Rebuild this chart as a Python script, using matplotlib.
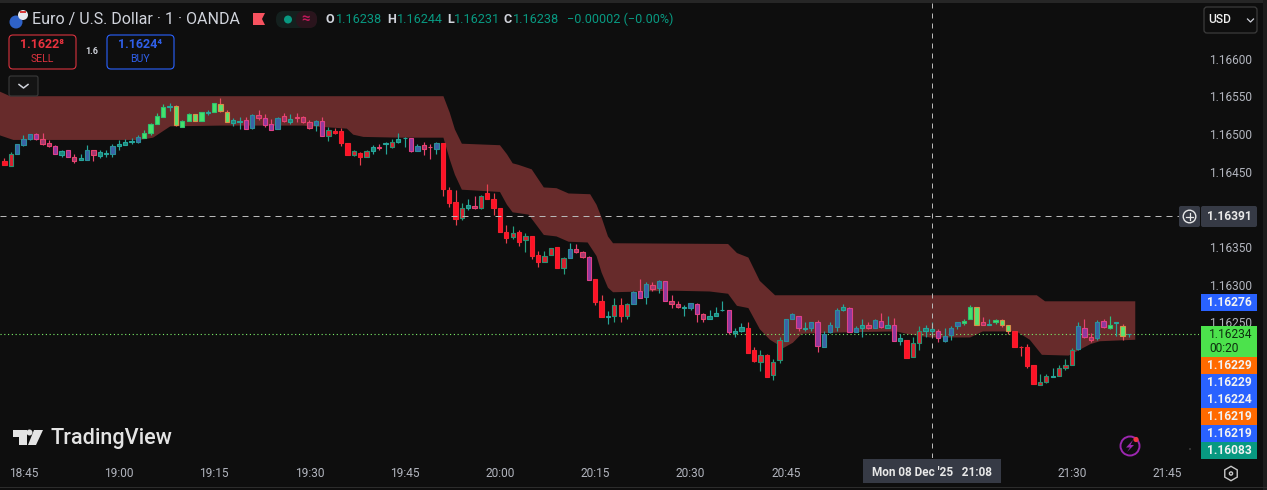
import numpy as np
import matplotlib
matplotlib.use("Agg")
import matplotlib.pyplot as plt
from matplotlib.patches import Rectangle, FancyBboxPatch, Circle, Polygon, RegularPolygon

plt.rcParams['font.family'] = ['Roboto', 'DejaVu Sans']

BASE = 1.16
PIP = 1e-5

# Candle values, in 0.00001 above 1.16000
wick_high = [468,476,487,498,500,501,501,492,485,479,478,474,474,485,478,478,478,486,492,493,
 494,499,505,514,528,540,541,538,518,528,527,529,532,541,548,532,521,523,523,526,
 532,526,520,522,528,527,528,524,519,518,523,509,508,508,488,479,476,479,485,486,
 489,493,501,496,494,486,489,486,489,488,429,425,409,413,418,419,433,421,402,379,
 378,373,369,364,345,345,349,350,337,355,354,345,338,307,287,265,282,282,276,292,
 307,303,303,306,305,286,278,273,276,276,262,267,271,278,267,242,249,251,218,214,
 208,201,230,255,262,258,250,251,253,238,251,269,275,270,245,254,250,254,262,259,
 256,235,227,230,245,246,250,241,243,245,250,254,273,270,257,254,255,254,247,238,
 219,222,194,182,182,190,194,201,216,250,255,236,253,254,259,250,248,235]
body_top = [464,474,486,493,500,500,493,488,484,477,478,469,468,478,478,476,475,484,486,489,
 491,496,501,513,524,536,537,537,517,527,526,529,529,541,540,529,518,517,518,525,
 525,521,513,521,524,520,522,522,516,517,517,505,504,504,488,477,475,477,482,483,
 488,489,493,495,494,484,485,482,488,488,426,410,402,406,405,418,422,414,402,370,
 368,370,365,364,340,338,349,350,336,348,348,343,337,307,278,259,273,273,274,290,
 291,301,299,305,305,279,275,271,276,275,261,258,263,267,267,238,244,243,213,207,
 207,198,226,255,261,258,243,251,250,235,246,266,270,269,242,246,246,253,252,247,
 247,229,227,223,238,242,241,239,232,243,250,252,271,270,250,248,253,253,246,238,
 218,218,193,171,179,179,189,193,214,245,242,231,251,252,246,249,245,235]
body_bot = [459,458,473,485,493,493,487,484,474,472,469,464,465,465,472,471,474,474,484,485,
 489,489,495,501,513,523,536,512,509,517,517,517,528,529,531,516,514,516,507,508,
 521,512,505,507,517,516,521,516,508,512,497,497,501,488,472,472,469,470,477,481,
 487,482,489,494,477,477,480,482,480,427,408,387,389,402,402,402,413,402,370,362,
 363,357,359,338,330,330,339,322,322,336,343,337,306,277,257,257,258,259,258,274,
 283,284,294,295,278,274,270,269,269,261,255,254,258,266,237,236,238,209,199,198,
 178,180,200,225,254,242,241,242,219,217,237,244,266,237,237,242,242,242,244,242,
 225,225,203,204,223,238,238,229,225,233,245,249,254,247,247,247,250,247,238,217,
 217,192,168,167,171,178,179,189,194,215,230,226,229,244,242,249,232,234]
wick_low = [459,458,473,484,492,492,485,483,473,470,469,462,465,465,464,468,470,470,478,485,
 486,488,495,498,513,523,531,511,509,517,517,517,525,529,529,516,511,507,507,507,
 518,509,505,507,516,513,516,515,507,504,497,490,500,484,472,471,459,469,474,478,
 473,481,488,483,476,477,472,467,474,418,403,379,386,399,401,401,413,393,370,355,
 360,351,344,334,323,330,339,322,314,335,342,335,306,273,257,248,250,250,255,274,
 283,274,291,289,278,269,269,258,267,251,251,254,258,265,234,230,237,209,198,186,
 178,174,196,225,254,238,238,238,211,217,236,238,265,237,237,230,241,242,243,242,
 225,220,203,204,214,231,232,224,224,227,241,246,254,246,246,247,248,244,235,217,
 206,190,168,167,170,178,179,187,193,214,229,224,227,243,241,232,227,230]
candle_style = ("RDBBBPMMPT" "PMTBMTTBTT" "TBGGGGTYGG" "YGTGYYTTPB" "MPPBMTMMMB"
                "PDRRRDRDTM" "TDTTPBMMBR" "RRDTMDRRRR" "DRDRRDDRDB" "MMPRRTDRDB"
                "PBMBPMMTBP" "MTTTPTTRRD" "RDDBBPTBPB" "BBTPBTMBPT" "PTRDDTTPBB"
                "BGGYMTGYYR" "RRRDDTDDDB" "PMBPGTYT")

# Band outline, read at its corners
band_up_i = [-0.7,0.9,69.1,70.1,70.9,72,78,79.1,80,80.9,83,84.9,86.9,88.8,92.2,93.2,94,95,95.8,
             113.9,115.3,117.1,118.9,121.3,162.5,163.8,178]
band_up = [556,550,550,528,506,487,485,473,461,459,453,429,428,421,420,406,389,364,355,
           354,342,336,305,286,286,278,278]
band_lo_i = [-0.7,1.4,21.3,23.4,26.1,33.9,47,53.9,54.9,56.5,62.3,69.1,70.1,70.9,72,78,79.1,80,82.5,
             84.9,86.9,88.8,91.8,93.2,94,95,95.8,105.3,111,113.9,115.3,117.1,118.9,120.5,122.6,124.1,
             125.5,133.1,140.4,142.5,145.7,152,154,159.3,161.4,163.3,167.5,170.9,172.4,178]
band_lo = [498,492,492,495,510,511,511,507,499,496,495,495,466,446,426,423,406,396,393,
           366,364,357,356,338,316,296,290,292,291,288,272,269,241,227,216,223,
           235,237,238,234,230,230,238,238,227,207,206,221,225,227]

price_ticks = [600,550,500,450,350,300,250]
time_labels = ["18:45","19:00","19:15","19:30","19:45","20:00","20:15","20:30","20:45","21:30","21:45"]
time_index = [3,18,33,48,63,78,93,108,123,168,183]
last_price = 234
cross_price = 391
cross_index = 146

BG = "#0e0e0e"
STYLES = {  # fill, edge, wick
 'R': ("#ff1226", "#f0202e", "#e8404e"),
 'D': ("#d9202e", "#2c8f70", "#26a080"),
 'B': ("#3b62a6", "#2a8f9a", "#26a69a"),
 'T': ("#1c8a7c", "#26a69a", "#26a69a"),
 'G': ("#46e26c", "#2fc070", "#2fc080"),
 'Y': ("#5ae26e", "#d88f48", "#e8505e"),
 'P': ("#8e3a9e", "#e0408a", "#e8436f"),
 'M': ("#a2386e", "#e8436f", "#e8436f"),
}

fig = plt.figure(figsize=(12.67, 4.90), dpi=100, facecolor=BG)
W, H = 1267, 490
L, R, T, B = 0, 1199, 3, 458
OFF = 0.5   # sub-pixel lift of the plot area
ax = fig.add_axes([L/W, 1-(B-OFF)/H, (R-L)/W, (B-T)/H], facecolor=BG)
S = 6.353
X0 = 4.44
ax.set_xlim((L-X0)/S, (R-X0)/S)
V = lambda y: 600 - (y-59)/0.754
ax.set_ylim(BASE+V(B)*PIP, BASE+V(T)*PIP)

px = lambda a: BASE + np.asarray(a, float)*PIP
ax.fill(np.r_[band_up_i, band_lo_i[::-1]], np.r_[px(band_up), px(band_lo[::-1])],
        color="#672b2b", lw=0, zorder=1)
ax.axhline(px(last_price), color="#7cf06a", lw=0.8, ls=(0, (1, 2.4)), zorder=2)

idx = np.arange(len(wick_high))
for i in idx:
    f, e, w = STYLES[candle_style[i]]
    ax.vlines(i, px(wick_low[i]), px(wick_high[i]), color=w, lw=0.85, zorder=3)
    h = max(body_top[i]-body_bot[i], 1)
    ax.bar(i, h*PIP, bottom=px(body_bot[i]), width=0.68, color=f, edgecolor=e, lw=0.8, zorder=4)

ax.axvline(cross_index, color="#b8b8b8", lw=0.72, ls=(0, (5, 5)), zorder=5)
ax.axhline(px(cross_price), color="#b8b8b8", lw=0.72, ls=(0, (6, 5)), zorder=5)

for s in ax.spines.values():
    s.set_visible(False)
ax.yaxis.tick_right()
ax.set_yticks(px(price_ticks))
ax.set_yticklabels([f"{BASE+p*PIP:.5f}" for p in price_ticks], fontsize=8.6, color="#b2b5be")
ax.set_xticks(time_index)
ax.set_xticklabels(time_labels, fontsize=8.6, color="#b2b5be")
ax.tick_params(axis='both', length=0)
ax.tick_params(axis='y', pad=7.5)
ax.tick_params(axis='x', pad=7)

# Overlay for the platform interface
ov = fig.add_axes([0, 0, 1, 1], facecolor='none', zorder=10)
ov.set_xlim(0, W); ov.set_ylim(H, 0); ov.axis('off')
def t(x, y, s, c="#d1d4dc", size=12, ha='left', weight='normal', **kw):
    ov.text(x, y, s, color=c, fontsize=size*0.72, ha=ha, va='center', fontweight=weight, **kw)
def box(x0, y0, x1, y1, fc, ec='none', r=0, lw=1):
    if r:
        ov.add_patch(FancyBboxPatch((x0+r, y0+r), x1-x0-2*r, y1-y0-2*r, boxstyle=f"round,pad={r},rounding_size={r}",
                                    fc=fc, ec=ec, lw=lw))
    else:
        ov.add_patch(Rectangle((x0, y0), x1-x0, y1-y0, fc=fc, ec=ec, lw=lw))

# frame
box(0, 0, W, 3, "#262626")
box(1263, 0, W, H, "#1c1c1c")
box(0, 487, W, 488, "#2c2c2c")

# title row
ov.add_patch(Circle((16, 22), 6.5, fc="#2f62c8", ec='none'))
ov.add_patch(Circle((23, 15), 5, fc="#e8e8ee", ec='none'))
ov.add_patch(Rectangle((20, 11), 6, 2, fc="#d83a3a", ec='none'))
t(32, 19.5, "Euro / U.S. Dollar · 1 · OANDA", size=16)
ov.add_patch(Polygon([(253,13),(265,13),(262,19),(265,25),(253,25)], fc="#f7525f", ec='none'))
box(276, 11, 317, 28, "#14201e", r=8)
box(296, 11, 317, 28, "#2a141c", r=8)
ov.add_patch(Circle((288, 19.5), 4, fc="#089981", ec='none'))
t(306, 19, "≈", c="#c2185b", size=15, ha='center', weight='bold')
for x, s, c, w in [(325.5,"O","#d1d4dc",'bold'),(335.5,"1.16238","#089981",'normal'),
                   (387,"H","#d1d4dc",'bold'),(397,"1.16244","#089981",'normal'),
                   (447,"L","#d1d4dc",'bold'),(454,"1.16231","#089981",'normal'),
                   (503,"C","#d1d4dc",'bold'),(513,"1.16238","#089981",'normal'),
                   (567,"−0.00002 (−0.00%)","#089981",'normal')]:
    t(x, 19.5, s, c=c, size=12.6, weight=w)

# sell / buy
box(9, 35, 76, 69, BG, ec="#d8323e", r=4, lw=0.8)
t(42, 45, "1.1622⁸", c="#e8323e", size=12.5, ha='center', weight='bold')
t(42, 59, "SELL", c="#d8323e", size=10.5, ha='center')
t(92, 51.5, "1.6", c="#d1d4dc", size=9, ha='center', weight='bold')
box(107, 35, 174, 69, BG, ec="#2962ff", r=4, lw=0.8)
t(140, 45, "1.1624⁴", c="#2f5fe8", size=12.5, ha='center', weight='bold')
t(140, 59, "BUY", c="#2f5fe8", size=10.5, ha='center')
box(9, 76, 38, 96, "#141414", ec="#3a3a3a", r=2, lw=0.8)
ov.plot([19, 23.5, 28], [84.5, 88, 84.5], color="#d1d4dc", lw=1.1)

# USD button
box(1204, 7, 1257, 33, BG, ec="#3c3c3c", r=3, lw=0.9)
t(1208, 19.5, "USD", size=12, c="#f0f0f0", weight='medium')
ov.plot([1247.5, 1250.5, 1253.5], [19, 22, 19], color="#d1d4dc", lw=0.9)

# TradingView logo
ov.add_patch(Polygon([(13,430),(27,430),(27,445),(19,445),(19,437),(13,437)], fc="#e4e4e4", ec='none'))
ov.add_patch(Circle((29.5, 432.5), 3, fc="#e4e4e4", ec='none'))
ov.add_patch(Polygon([(34,430),(43,430),(36,445),(28,445)], fc="#e4e4e4", ec='none'))
t(50.5, 438, "TradingView", c="#e4e4e4", size=21.6, weight='medium')

# price labels
box(1179, 206, 1200, 227, "#363a45", r=2)
box(1201, 206, 1257, 227, "#363a45", r=2)
ov.add_patch(Circle((1189.5, 216.5), 6.3, fc='none', ec="#e8e8e8", lw=1))
ov.plot([1186, 1193], [216.5, 216.5], color="#e8e8e8", lw=0.9)
ov.plot([1189.5, 1189.5], [213, 220], color="#e8e8e8", lw=0.9)
t(1229, 216.5, "1.16391", c="#e8e8e8", size=12, ha='center', weight='bold')

labels = [("1.16276", 294, 311, "#2962ff"), ("1.16229", 357, 374, "#ff6a00"), ("1.16229", 374, 391, "#2962ff"),
          ("1.16224", 391, 408, "#2962ff"), ("1.16219", 408, 425, "#ff6a00"), ("1.16219", 425, 442, "#2962ff"),
          ("1.16083", 442, 459, "#089981")]
for s, y0, y1, c in labels:
    box(1201, y0, 1257, y1, c)
    t(1229, (y0+y1)/2, s, c="#f2f2f2", size=12, ha='center', weight='bold')
box(1201, 326, 1257, 357, "#4ce24c")
t(1209, 334.5, "1.16234", c="#0e3010", size=12)
t(1209, 348.5, "00:20", c="#0e3010", size=12)

# crosshair time label
box(863, 459, 1001, 483, "#363a45")
t(932, 472, "Mon 08 Dec '25   21:08", c="#e8e8e8", size=11.8, ha='center', weight='bold')

# hexagon settings
ov.add_patch(RegularPolygon((1231, 473.5), 6, radius=7.2, fc='none', ec="#c8c8c8", lw=1))
ov.add_patch(Circle((1231, 473.5), 1.6, fc='none', ec="#c8c8c8", lw=1))

# lightning icon
ov.add_patch(Circle((1130, 446), 9.5, fc='none', ec="#9c27b0", lw=1.4))
ov.add_patch(Polygon([(1133,440),(1126,447.5),(1130,447.5),(1127,452),(1134,445),(1130.5,445)], fc="#9c27b0", ec='none'))
ov.add_patch(Circle((1136, 439.5), 2.6, fc="#f23645", ec='none'))
ov.add_patch(Circle((1190, 449), 0.8, fc="#555555", ec='none'))

fig.savefig("out.png", dpi=100, facecolor=BG)
